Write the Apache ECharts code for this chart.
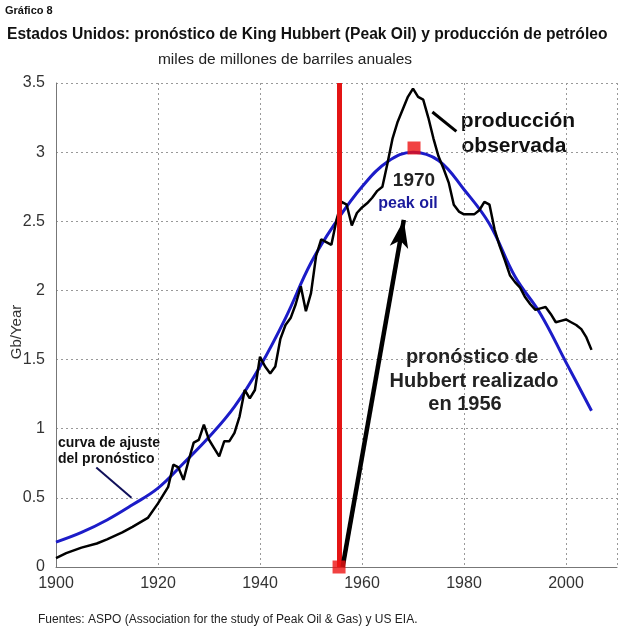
<!DOCTYPE html>
<html>
<head>
<meta charset="utf-8">
<script src="https://cdn.jsdelivr.net/npm/echarts@6/dist/echarts.min.js"></script>
<style>
  html, body { margin: 0; padding: 0; background: #fff; }
  #main { width: 627px; height: 640px; }
</style>
</head>
<body>
<div id="main"></div>
<script>
// produccion observada (Gb/año)
var obsYears = [1900,1902,1905,1908,1910,1913,1915,1918,1920,1922,1923,1924,1925,1926,1927,1928,1929,1930,
  1931,1932,1933,1934,1935,1936,1937,1938,1939,1940,1941,1942,1943,1944,1945,1946,1947,1948,1949,1950,
  1951,1952,1953,1954,1955,1956,1957,1958,1959,1960,1961,1962,1963,1964,1965,1966,1967,1968,1969,1970,
  1971,1972,1973,1974,1975,1976,1977,1978,1979,1980,1981,1982,1983,1984,1985,1986,1987,1988,1989,1990,
  1991,1992,1993,1994,1995,1996,1997,1998,1999,2000,2001,2002,2003,2004,2005];
var obsValues = [0.065,0.1,0.14,0.17,0.2,0.25,0.29,0.355,0.46,0.58,0.74,0.72,0.63,0.77,0.9,0.92,1.03,0.92,
  0.86,0.8,0.91,0.91,0.97,1.09,1.28,1.22,1.28,1.52,1.45,1.4,1.45,1.65,1.75,1.8,1.9,2.03,1.85,1.98,
  2.25,2.37,2.35,2.33,2.51,2.64,2.62,2.47,2.56,2.6,2.63,2.67,2.72,2.75,2.92,3.1,3.22,3.31,3.4,3.46,
  3.4,3.38,3.25,3.1,2.97,2.88,2.78,2.62,2.57,2.55,2.55,2.55,2.58,2.64,2.62,2.44,2.32,2.22,2.11,2.06,
  2.02,1.95,1.9,1.86,1.87,1.88,1.83,1.77,1.78,1.79,1.77,1.75,1.72,1.66,1.57];

// curva de Hubbert (pronóstico)
var fitYears = [1900,1905,1910,1915,1920,1925,1930,1935,1940,1945,1950,1955,1960,1965,1970,1975,1980,1985,1990,1995,2000,2005];
var fitValues = [0.18,0.25,0.34,0.45,0.57,0.75,0.94,1.16,1.45,1.8,2.2,2.5,2.75,2.93,3.0,2.94,2.73,2.48,2.1,1.83,1.48,1.13];

var forecastYear = 1955.5;
var peakPoint = [1970.2, 3.03];
var arrowLine = [[1956.2, 0], [1968.2, 2.51]];
var obsPointer = [[1973.8, 3.29], [1978.5, 3.15]];
var fitPointer = [[1907.9, 0.72], [1914.8, 0.5]];

var yTicks = [0, 0.5, 1, 1.5, 2, 2.5, 3, 3.5];

function zip(a, b) {
  return a.map(function (v, i) { return [v, b[i]]; });
}

var myChart = echarts.init(document.getElementById('main'));
var font = '"Liberation Sans", Arial, sans-serif';

var option = {
  backgroundColor: '#fff',
  animation: false,
  textStyle: { fontFamily: font },
  grid: { left: 56, right: 10, top: 83, bottom: 73 },
  xAxis: {
    type: 'value', min: 1900, max: 2010, interval: 20,
    axisLine: { show: true, lineStyle: { color: '#777', width: 1 } },
    axisTick: { show: false },
    axisLabel: {
      showMaxLabel: false, margin: 9, fontSize: 16, color: '#333', fontFamily: font,
      formatter: function (v) { return String(v); }
    },
    splitLine: { show: true, lineStyle: { color: '#999', type: [2, 3], width: 1 } }
  },
  yAxis: {
    type: 'value', min: 0, max: 3.5, interval: 0.5,
    axisLine: { show: true, lineStyle: { color: '#777', width: 1 } },
    axisTick: { show: false },
    axisLabel: {
      margin: 11, fontSize: 16, color: '#333', fontFamily: font,
      formatter: function (v) { return yTicks.indexOf(v) >= 0 ? String(v) : ''; }
    },
    splitLine: { show: true, lineStyle: { color: '#999', type: [2, 3], width: 1 } }
  },
  series: [
    {
      name: 'pronóstico', type: 'line', smooth: 0.4, symbol: 'none',
      data: zip(fitYears, fitValues),
      lineStyle: { color: '#1c1cc8', width: 3 },
      z: 3
    },
    {
      name: 'producción observada', type: 'line', symbol: 'none',
      data: zip(obsYears, obsValues),
      lineStyle: { color: '#000', width: 2.5 },
      z: 4,
      markLine: {
        silent: true, animation: false, symbol: ['none', 'none'], label: { show: false },
        data: [
          [{ coord: obsPointer[0], lineStyle: { color: '#000', width: 3, type: 'solid' } }, { coord: obsPointer[1] }],
          [{ coord: fitPointer[0], lineStyle: { color: '#10105a', width: 2, type: 'solid' } }, { coord: fitPointer[1] }]
        ]
      }
    },
    {
      name: 'año 1956', type: 'line', symbol: 'none', data: [],
      z: 5,
      markLine: {
        silent: true, animation: false, symbol: ['none', 'none'], label: { show: false },
        lineStyle: { color: '#e31414', width: 5, type: 'solid' },
        data: [{ xAxis: forecastYear }]
      }
    },
    {
      name: 'flecha', type: 'line', symbol: 'none', data: [],
      z: 6,
      markLine: {
        silent: true, animation: false, symbol: ['none', 'arrow'], symbolSize: [14, 28],
        label: { show: false },
        lineStyle: { color: '#000', width: 4.5, type: 'solid' },
        data: [[{ coord: arrowLine[0] }, { coord: arrowLine[1] }]]
      }
    },
    {
      name: 'marcas', type: 'scatter', symbol: 'rect', symbolSize: 13,
      itemStyle: { color: '#ee1111' },
      data: [[forecastYear, 0], peakPoint],
      z: 7
    }
  ],
  graphic: [
    { type: 'text', left: 5, top: 5, style: { text: 'Gráfico 8', font: 'bold 11px ' + font, fill: '#111' } },
    { type: 'text', left: 7, top: 27, style: { text: 'Estados Unidos: pronóstico de King Hubbert (Peak Oil) y producción de petróleo', font: 'bold 15.6px ' + font, fill: '#111' } },
    { type: 'text', x: 285, y: 60, style: { text: 'miles de millones de barriles anuales', font: '15.5px ' + font, fill: '#222', align: 'center', verticalAlign: 'middle' } },
    { type: 'text', x: 17, y: 332, rotation: Math.PI / 2, style: { text: 'Gb/Year', font: '15px ' + font, fill: '#333', align: 'center', verticalAlign: 'middle' } },
    { type: 'text', x: 518, y: 121, style: { text: 'producción', font: 'bold 21px ' + font, fill: '#111', align: 'center', verticalAlign: 'middle' } },
    { type: 'text', x: 514, y: 146, style: { text: 'observada', font: 'bold 21px ' + font, fill: '#111', align: 'center', verticalAlign: 'middle' } },
    { type: 'text', x: 414, y: 181, style: { text: '1970', font: 'bold 19px ' + font, fill: '#222', align: 'center', verticalAlign: 'middle' } },
    { type: 'text', x: 408, y: 204, style: { text: 'peak oil', font: 'bold 16px ' + font, fill: '#1a1a9c', align: 'center', verticalAlign: 'middle' } },
    { type: 'text', x: 472, y: 357, style: { text: 'pronóstico de', font: 'bold 20px ' + font, fill: '#222', align: 'center', verticalAlign: 'middle' } },
    { type: 'text', x: 474, y: 381, style: { text: 'Hubbert realizado', font: 'bold 20px ' + font, fill: '#222', align: 'center', verticalAlign: 'middle' } },
    { type: 'text', x: 465, y: 404, style: { text: 'en 1956', font: 'bold 20px ' + font, fill: '#222', align: 'center', verticalAlign: 'middle' } },
    { type: 'text', left: 58, top: 436, style: { text: 'curva de ajuste', font: 'bold 14px ' + font, fill: '#111' } },
    { type: 'text', left: 58, top: 452, style: { text: 'del pronóstico', font: 'bold 14px ' + font, fill: '#111' } },
    { type: 'text', left: 38, top: 614, style: { text: 'Fuentes: ASPO (Association for the study of Peak Oil & Gas) y US EIA.', font: '12px ' + font, fill: '#222' } }
  ]
};
myChart.setOption(option);
</script>
</body>
</html>
